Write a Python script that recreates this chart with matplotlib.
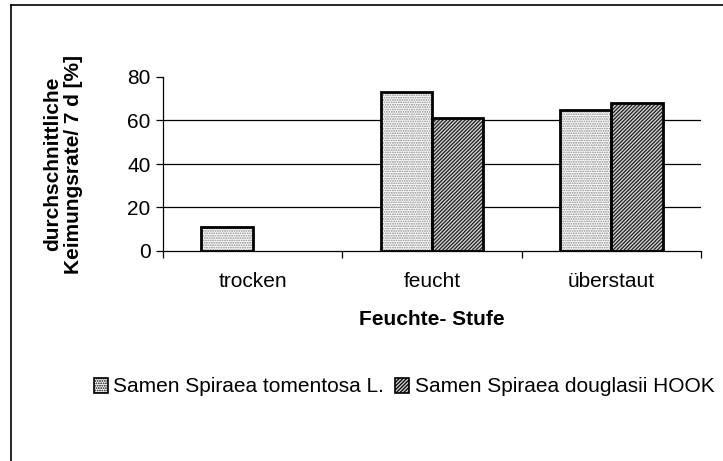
import matplotlib
matplotlib.use("Agg")
import matplotlib.pyplot as plt
import numpy as np
from matplotlib.patches import Patch
from matplotlib.lines import Line2D

categories = ["trocken", "feucht", "überstaut"]
series_names = ["Samen Spiraea tomentosa L.", "Samen Spiraea douglasii HOOK"]
tomentosa = [11, 73, 65]
douglasii = [0, 61, 68]
yticks = [0, 20, 40, 60, 80]

plt.rcParams['font.family'] = ['Liberation Sans', 'DejaVu Sans']
plt.rcParams['hatch.linewidth'] = 0.9

FS = 15
fig = plt.figure(figsize=(7.23, 4.61), dpi=100)
ax = fig.add_axes([163/723, 1-251/461, (701-163)/723, (251-77)/461])

x = np.arange(len(categories))
w = 1/3.5
styles = [dict(face='white', hatch='.......', hc='#8a8a8a'),
          dict(face='#d0d0d0', hatch='/////////', hc='#202020')]
handles = []
for i, (vals, st) in enumerate(zip([tomentosa, douglasii], styles)):
    pos = x + (i - 0.5) * w
    ax.bar(pos, vals, w, color=st['face'], hatch=st['hatch'], edgecolor=st['hc'], linewidth=0, zorder=3)
    ax.bar([p for p, v in zip(pos, vals) if v > 0], [v for v in vals if v > 0], w,
           fill=False, edgecolor='black', linewidth=2, zorder=4)
    handles.append(Patch(facecolor=st['face'], hatch=st['hatch'], edgecolor='black', linewidth=1.2))

for g in [20, 40, 60]:
    ax.axhline(g, color='black', linewidth=0.9, zorder=1)

ax.set_xlim(-0.5, 2.5)
ax.set_ylim(0, 80)
ax.set_yticks(yticks)
ax.set_yticklabels([str(t) for t in yticks], fontsize=FS)
ax.set_xticks(x)
ax.set_xticklabels(categories, fontsize=FS)
ax.set_xticks([-0.5, 0.5, 1.5, 2.5], minor=True)
ax.tick_params(axis='x', which='major', length=0, pad=15)
ax.tick_params(axis='x', which='minor', length=5, direction='out', width=0.9)
ax.tick_params(axis='y', length=5, direction='out', width=0.9, pad=4)
ax.spines['top'].set_visible(False)
ax.spines['right'].set_visible(False)
ax.spines['left'].set_linewidth(0.9)
ax.spines['bottom'].set_linewidth(0.9)
ax.spines['bottom'].set_zorder(5)

ax.set_xlabel("Feuchte- Stufe", fontsize=FS, fontweight='bold', labelpad=14)
fig.text(63/723, 1-164/461, "durchschnittliche\nKeimungsrate/ 7 d [%]", rotation=90,
         ha='center', va='center', fontsize=FS, fontweight='bold', multialignment='center',
         linespacing=1.1)

fig.legend(handles, series_names, ncol=2, frameon=False, fontsize=FS,
           loc='center', bbox_to_anchor=(404/723, 1-387/461),
           handlelength=0.7, handleheight=0.7, handletextpad=0.25, columnspacing=0.5)

fig.add_artist(Line2D([11/723, 11/723], [0, 1-5/461], color='black', linewidth=1.2, transform=fig.transFigure))
fig.add_artist(Line2D([11/723, 1], [1-5/461, 1-5/461], color='black', linewidth=1.2, transform=fig.transFigure))

fig.savefig("out.png", dpi=100)
